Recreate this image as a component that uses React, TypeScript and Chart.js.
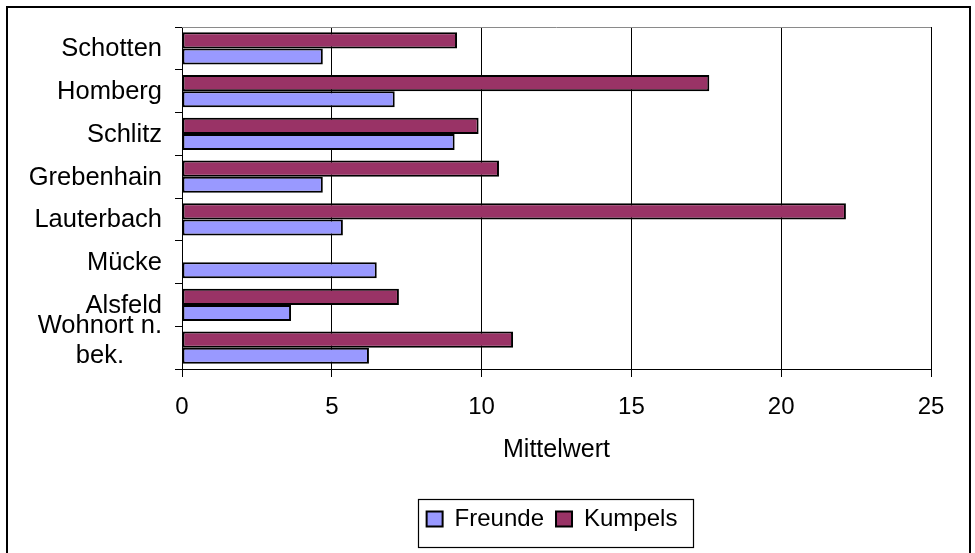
import { useEffect, useRef } from "react";
import { Chart, registerables } from "chart.js";

Chart.register(...registerables);

const categories: (string | string[])[] = [
  "Schotten",
  "Homberg",
  "Schlitz",
  "Grebenhain",
  "Lauterbach",
  "Mücke",
  "Alsfeld",
  ["Wohnort n.", "bek."],
];
const seriesNames = ["Freunde", "Kumpels"];
const freunde = [4.7, 7.1, 9.1, 4.7, 5.37, 6.5, 3.64, 6.24];
const kumpels: (number | null)[] = [9.18, 17.6, 9.9, 10.58, 22.16, null, 7.24, 11.05];
const xTickMin = 0;
const xTickMax = 25;
const xTickStep = 5;
const axisTitle = "Mittelwert";

const FONT = "'Liberation Sans', Arial, Helvetica, sans-serif";

const yLabelPlugin = {
  id: "yLabels",
  afterDraw(chart: any) {
    const scale = chart.scales.y;
    const ctx = chart.ctx as CanvasRenderingContext2D;
    ctx.save();
    ctx.font = `25.5px ${FONT}`;
    ctx.fillStyle = "#000";
    ctx.textBaseline = "alphabetic";
    ctx.textAlign = "center";
    const right = chart.chartArea.left - 20;
    (scale.getLabels() as (string | string[])[]).forEach((lab, i) => {
      const lines = Array.isArray(lab) ? lab : [lab];
      const w = Math.max(...lines.map((l) => ctx.measureText(l).width));
      const cx = right - w / 2;
      const c = scale.getPixelForTick(i);
      const first = c + 8 - (lines.length - 1) * 23;
      lines.forEach((l, j) => ctx.fillText(l, cx, first + j * 30));
    });
    ctx.restore();
  },
};

const framePlugin = {
  id: "frames",
  afterDraw(chart: any) {
    const ctx = chart.ctx as CanvasRenderingContext2D;
    const a = chart.chartArea;
    ctx.save();
    ctx.strokeStyle = "#8a8a8a";
    ctx.lineWidth = 1;
    ctx.beginPath();
    ctx.moveTo(a.left, Math.round(a.top) + 0.5);
    ctx.lineTo(a.right, Math.round(a.top) + 0.5);
    ctx.stroke();
    const hb = chart.legend?.legendHitBoxes as any[] | undefined;
    if (hb && hb.length) {
      const l = Math.min(...hb.map((h) => h.left)) - 9;
      const r = Math.max(...hb.map((h) => h.left + h.width)) + 15;
      const t = Math.min(...hb.map((h) => h.top)) - 8;
      const b = Math.max(...hb.map((h) => h.top + h.height)) + 16;
      ctx.strokeStyle = "#000";
      ctx.lineWidth = 1.2;
      ctx.strokeRect(Math.round(l) + 0.5, Math.round(t) + 0.5, Math.round(r - l), Math.round(b - t));
    }
    ctx.restore();
  },
};

export default function App() {
  const ref = useRef<HTMLCanvasElement | null>(null);
  useEffect(() => {
    if (!ref.current) return;
    Chart.defaults.font.family = FONT;
    Chart.defaults.color = "#000";
    const chart = new Chart(ref.current, {
      type: "bar",
      data: {
        labels: categories,
        datasets: [
          {
            label: seriesNames[1],
            data: kumpels,
            backgroundColor: "#993366",
            borderColor: "#000",
            borderWidth: 2,
            borderSkipped: false,
            categoryPercentage: 0.75,
            barPercentage: 1,
          },
          {
            label: seriesNames[0],
            data: freunde,
            backgroundColor: "#9999FF",
            borderColor: "#000",
            borderWidth: 2,
            borderSkipped: false,
            categoryPercentage: 0.75,
            barPercentage: 1,
          },
        ],
      },
      options: {
        indexAxis: "y",
        animation: false,
        responsive: true,
        maintainAspectRatio: false,
        layout: { padding: { left: 165, right: 37, top: 19, bottom: 12 } },
        plugins: {
          tooltip: { enabled: false },
          legend: {
            position: "bottom",
            reverse: true,
            labels: {
              font: { size: 24, family: FONT },
              color: "#000",
              boxWidth: 16,
              boxHeight: 15,
              padding: 12,
            },
          },
        },
        scales: {
          x: {
            type: "linear",
            min: xTickMin,
            max: xTickMax,
            ticks: {
              stepSize: xTickStep,
              font: { size: 24, family: FONT },
              color: "#000",
              padding: 16,
              maxRotation: 0,
            },
            grid: { color: "#000", lineWidth: 1, tickLength: 8, drawOnChartArea: true },
            border: { color: "#000", width: 1 },
            title: {
              display: true,
              text: axisTitle,
              font: { size: 25, family: FONT },
              color: "#000",
              padding: { top: 0, bottom: 30 },
            },
            afterFit: (scale: any) => {
              scale.height = 126;
            },
          },
          y: {
            type: "category",
            offset: true,
            ticks: { display: false },
            grid: { drawOnChartArea: false, drawTicks: true, tickLength: 7, color: "#000", offset: true },
            border: { color: "#000", width: 1 },
            afterFit: (scale: any) => {
              scale.width = 9;
            },
          },
        },
      },
      plugins: [yLabelPlugin, framePlugin],
    } as any);
    return () => chart.destroy();
  }, []);

  return (
    <>
      <div
        style={{
          position: "fixed",
          left: 6,
          top: 6,
          width: 961,
          height: 600,
          border: "2px solid #000",
          boxSizing: "content-box",
          background: "#fff",
        }}
      />
      <div style={{ position: "fixed", left: 8, top: 8, width: 960, height: 545 }}>
        <canvas ref={ref} />
      </div>
    </>
  );
}
